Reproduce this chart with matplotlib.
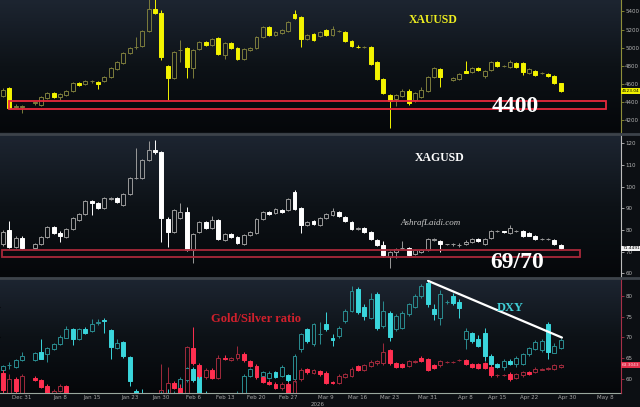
import numpy as np
import pandas as pd
import matplotlib
matplotlib.use("Agg")
import matplotlib.pyplot as plt
from matplotlib.colors import LinearSegmentedColormap
from matplotlib.lines import Line2D
from matplotlib.patches import Rectangle

nan = np.nan

# daily bars, one per weekday from Dec 26 2025 (holidays left empty)
days = pd.bdate_range("2025-12-26", periods=89)

# ---- XAUUSD ----
gold_open = [4470, 4555, 4345, 4345, nan, 4385, 4367, 4445, 4500, 4455,
             4477, 4522, 4610, 4598, 4630, 4620, 4632, 4676, 4765, 4831,
             4941, 5003, 5019, 5185, 5428, 5383, 4798, 4665, 4975, 4997,
             4776, 4986, 5063, 5030, 5107, 4920, 5052, 4997, 4875, 4975,
             4997, 5118, 5229, 5140, 5162, 5185, 5372, 5339, 5096, 5151,
             5129, 5196, 5140, 5185, 5173, 5074, 5012, 5005, 5008, 4842,
             4654, 4477, 4433, 4466, 4522, 4422, 4455, 4522, 4676, 4765,
             nan, 4643, 4654, 4743, 4732, 4776, 4687, 4754, 4842, 4798,
             4787, 4831, 4831, 4720, 4743, 4720, 4710, 4687, 4610]
gold_high = [4550, 4560, 4380, 4365, nan, 4405, 4465, 4510, 4510, 4495,
             4530, 4620, 4625, 4640, 4645, 4630, 4685, 4785, 4850, 4950,
             5005, 5118, 5195, 5560, 5595, 5420, 4810, 4960, 5085, 5010,
             4985, 5075, 5075, 5105, 5115, 5060, 5065, 5005, 4995, 5010,
             5125, 5240, 5240, 5185, 5205, 5295, 5417, 5350, 5150, 5165,
             5185, 5205, 5240, 5200, 5180, 5085, 5025, 5020, 5015, 4850,
             4660, 4490, 4490, 4540, 4545, 4510, 4560, 4685, 4790, 4775,
             nan, 4675, 4720, 4853, 4785, 4790, 4750, 4850, 4855, 4810,
             4865, 4840, 4840, 4775, 4750, 4730, 4720, 4700, 4615]
gold_low = [4455, 4325, 4330, 4280, nan, 4365, 4355, 4430, 4445, 4420,
            4465, 4515, 4580, 4590, 4615, 4545, 4620, 4665, 4755, 4820,
            4930, 4990, 5010, 5170, 5370, 4860, 4420, 4650, 4842, 4665,
            4665, 4975, 5020, 5020, 4920, 4875, 4990, 4860, 4865, 4965,
            4990, 5110, 5130, 5130, 5150, 5175, 5320, 5007, 5085, 5075,
            5120, 5130, 5130, 5170, 5065, 5010, 4995, 4995, 4810, 4640,
            4490, 4113, 4350, 4455, 4370, 4400, 4440, 4510, 4665, 4566,
            nan, 4630, 4640, 4715, 4720, 4745, 4665, 4745, 4790, 4790,
            4775, 4775, 4700, 4710, 4690, 4710, 4680, 4600, 4515]
gold_close = [4530, 4334, 4360, 4350, nan, 4395, 4455, 4500, 4455, 4490,
              4522, 4610, 4588, 4632, 4632, 4598, 4676, 4776, 4842, 4941,
              4997, 5008, 5185, 5428, 5383, 4897, 4665, 4953, 4975, 4787,
              4975, 5063, 5030, 5096, 4930, 5052, 4997, 4875, 4986, 4997,
              5118, 5229, 5140, 5173, 5196, 5284, 5328, 5096, 5140, 5085,
              5173, 5140, 5207, 5185, 5074, 5019, 5008, 5008, 4820, 4654,
              4500, 4411, 4477, 4522, 4389, 4500, 4533, 4676, 4776, 4676,
              nan, 4665, 4710, 4720, 4776, 4754, 4743, 4842, 4798, 4798,
              4842, 4787, 4732, 4765, 4698, 4720, 4687, 4610, 4523.04]

# ---- XAGUSD ----
silver_open = [73.4, 80.0, 72.3, 76.5, nan, 71.9, 73.4, 76.9, 81.5, 78.8,
               76.9, 80.5, 84.6, 87.2, 93.4, 92.6, 90.0, 94.5, 94.9, 91.5,
               96.5, 104.0, 103.8, 112.3, 116.9, 115.8, 85.0, 79.2, 85.4, 88.4,
               70.8, 78.9, 83.8, 80.8, 84.6, 75.4, 78.2, 76.9, 73.4, 77.7,
               78.5, 84.9, 88.4, 87.7, 89.2, 89.2, 97.6, 90.0, 82.3, 84.1,
               82.3, 85.4, 86.9, 88.4, 86.1, 83.8, 80.5, 81.1, 79.2, 75.4,
               73.1, 67.7, 70.0, 71.6, 71.6, 68.8, 70.0, 70.8, 75.4, 74.9,
               73.4, 73.3, 73.0, 73.4, 74.3, 75.9, 73.4, 76.2, 79.4, 79.3,
               78.5, 79.4, 79.5, 78.5, 77.4, 75.8, 75.8, 75.4, 73.1]
silver_high = [79.8, 84.0, 77.0, 77.0, nan, 73.8, 77.3, 81.9, 82.0, 79.5,
               80.8, 85.8, 87.8, 93.8, 93.9, 93.0, 95.0, 95.4, 95.3, 96.9,
               104.2, 117.9, 112.8, 121.0, 121.5, 116.5, 86.0, 89.6, 92.4, 90.7,
               78.6, 84.2, 84.3, 86.6, 85.0, 78.5, 78.6, 77.3, 78.1, 79.6,
               85.3, 88.8, 88.8, 90.1, 89.6, 94.7, 98.4, 90.4, 84.2, 84.5,
               85.8, 87.8, 90.0, 88.8, 86.5, 84.2, 81.2, 81.5, 79.6, 75.8,
               74.9, 70.1, 71.5, 74.9, 72.0, 71.2, 71.2, 76.3, 76.3, 75.3,
               73.7, 74.2, 73.9, 75.5, 76.3, 76.3, 76.3, 79.9, 79.9, 79.6,
               82.5, 79.9, 79.9, 78.9, 77.8, 76.3, 76.3, 75.8, 73.5]
silver_low = [72.8, 71.8, 71.5, 71.2, nan, 71.5, 73.0, 76.5, 78.2, 74.3,
              76.5, 80.0, 84.0, 86.8, 86.9, 89.8, 89.6, 94.0, 92.6, 91.0,
              96.0, 103.5, 103.4, 111.8, 115.0, 74.6, 72.0, 78.8, 84.9, 70.3,
              64.8, 78.5, 80.6, 80.4, 75.4, 75.0, 76.5, 73.5, 73.0, 77.3,
              78.1, 84.5, 87.0, 87.3, 88.0, 88.8, 89.3, 78.5, 81.9, 82.2,
              81.9, 85.0, 86.5, 86.2, 83.7, 80.1, 80.1, 78.8, 75.5, 72.7,
              67.4, 62.5, 67.0, 71.2, 68.1, 68.4, 69.6, 70.4, 75.0, 70.0,
              73.2, 72.6, 72.3, 73.0, 73.9, 74.5, 73.0, 75.8, 79.1, 78.8,
              78.1, 79.1, 76.8, 77.0, 75.5, 75.5, 75.5, 73.1, 71.3]
silver_close = [79.2, 72.3, 76.5, 71.9, nan, 73.4, 76.9, 81.5, 78.5, 77.4,
                80.3, 85.4, 87.4, 93.4, 92.3, 90.3, 94.6, 94.9, 93.0, 96.5,
                103.8, 104.1, 112.3, 116.9, 115.8, 85.4, 79.2, 89.2, 88.4, 70.8,
                78.2, 83.8, 81.0, 84.6, 75.9, 78.0, 76.9, 73.9, 77.7, 79.2,
                84.9, 88.4, 87.4, 89.7, 88.4, 94.3, 89.7, 82.3, 83.8, 82.6,
                85.4, 87.4, 88.8, 86.6, 84.1, 80.5, 80.8, 79.2, 75.9, 73.1,
                68.5, 69.7, 71.1, 71.6, 68.5, 70.8, 70.8, 75.9, 75.9, 73.4,
                73.5, 73.4, 73.1, 74.6, 75.9, 74.9, 75.9, 79.5, 79.5, 79.2,
                81.1, 79.5, 77.2, 77.4, 75.9, 75.9, 75.9, 73.5, 71.4491]

# ---- Gold/Silver ratio (right scale of bottom panel) ----
ratio_open = [61.3, 56.6, 60.0, 56.6, nan, 60.2, 59.7, 58.2, 56.6, 57.0,
              58.2, 56.3, 54.0, 52.5, 49.6, 50.2, 50.9, 49.4, 50.3, 52.1,
              51.2, 48.1, 48.1, 46.2, 46.4, 46.5, 56.4, 59.0, 57.8, 56.5,
              67.5, 63.3, 60.4, 62.1, 60.2, 65.0, 64.6, 65.0, 66.0, 64.2,
              63.1, 60.3, 59.2, 58.8, 57.7, 58.8, 56.0, 59.8, 62.25, 61.45,
              61.85, 61.45, 59.2, 59.0, 60.5, 60.65, 63.05, 62.1, 63.05, 63.7,
              63.7, 66.9, 63.7, 63.5, 63.05, 64.1, 65.1, 64.7, 63.2, 63.2,
              63.95, 63.95, 64.4, 64.5, 63.5, 63.5, 63.7, 62.9, 60.75, 60.9,
              61.2, 60.25, 60.8, 61.6, 61.6, 62.2, 62.35, 62.4, 62.9]
ratio_high = [62.0, 61.0, 60.5, 61.0, nan, 60.6, 60.0, 58.6, 57.4, 58.6,
              58.5, 56.6, 54.8, 52.8, 50.5, 51.2, 51.2, 50.6, 52.4, 52.4,
              51.5, 49.0, 48.5, 46.8, 48.0, 63.5, 62.7, 59.3, 58.7, 68.0,
              72.6, 63.8, 62.6, 62.5, 65.6, 65.8, 65.3, 67.9, 66.4, 64.6,
              63.5, 60.7, 59.6, 59.2, 59.2, 59.2, 59.8, 62.5, 62.6, 62.4,
              62.2, 61.8, 59.5, 61.0, 61.4, 62.8, 63.4, 63.5, 64.4, 64.6,
              68.7, 67.2, 64.0, 63.8, 64.6, 64.6, 65.5, 65.0, 63.5, 64.6,
              64.3, 64.3, 64.8, 64.8, 63.8, 63.8, 64.0, 63.2, 61.1, 61.2,
              61.5, 61.4, 61.9, 61.9, 62.7, 62.6, 62.7, 63.5, 63.6]
ratio_low = [56.5, 56.3, 56.5, 56.3, nan, 59.3, 57.6, 55.0, 56.3, 56.8,
             56.0, 53.8, 52.3, 49.4, 49.2, 49.8, 49.2, 49.0, 50.0, 51.0,
             47.8, 47.6, 45.9, 45.5, 45.8, 46.0, 55.8, 57.4, 55.8, 56.0,
             63.3, 60.2, 60.0, 59.8, 59.8, 64.4, 64.2, 64.6, 64.0, 62.7,
             60.0, 58.9, 58.5, 57.4, 57.3, 55.8, 55.5, 59.4, 61.2, 61.1,
             60.7, 58.7, 58.6, 58.7, 60.2, 60.3, 61.8, 61.8, 62.7, 63.4,
             63.4, 63.3, 62.6, 62.6, 62.7, 63.8, 63.9, 61.8, 62.3, 62.9,
             63.7, 63.7, 64.2, 63.2, 62.6, 62.3, 62.3, 60.5, 60.5, 60.6,
             59.5, 60.0, 60.5, 60.8, 61.3, 62.0, 62.1, 62.1, 62.6]
ratio_close = [57.2, 60.0, 57.0, 60.6, nan, 59.7, 58.0, 55.2, 57.0, 58.2,
               56.3, 54.0, 52.5, 49.6, 50.2, 50.9, 49.4, 50.3, 52.1, 51.2,
               48.1, 48.1, 46.2, 46.4, 46.5, 57.3, 58.9, 57.8, 56.3, 67.6,
               63.7, 60.6, 62.1, 60.2, 65.0, 64.8, 65.0, 66.0, 64.5, 63.1,
               60.3, 59.2, 58.8, 57.7, 58.8, 56.0, 59.4, 62.1, 61.6, 62.1,
               61.05, 59.0, 58.9, 60.65, 61.05, 62.4, 62.1, 63.2, 64.0, 64.25,
               66.45, 63.7, 62.9, 62.9, 64.25, 64.3, 64.25, 62.1, 62.65, 64.25,
               64.05, 64.05, 64.5, 63.5, 62.9, 62.65, 62.65, 60.8, 60.85, 60.95,
               59.8, 61.05, 61.6, 61.05, 62.4, 62.3, 62.45, 63.2, 63.3]

# ---- DXY (hidden left scale of bottom panel) ----
dxy_open = [97.90, 98.05, 98.01, 98.23, nan, 98.23, 98.50, 98.42, 98.61, 98.76,
            98.98, 99.26, 98.94, 99.28, 99.20, 99.48, 99.57, 99.22, 98.64, 98.84,
            98.34, 97.20, 97.00, 96.90, 96.85, 96.95, 97.10, 97.05, 97.10, 97.55,
            97.92, 97.70, 97.10, 97.00, 96.95, 97.00, 96.95, 97.05, 97.14, 97.70,
            97.81, 97.70, 97.64, 97.83, 97.70, 97.72, 97.59, 98.59, 99.26, 98.76,
            99.09, 99.42, 98.95, 99.03, 99.53, 99.87, 100.61, 100.01, 99.64, 100.42,
            99.37, 99.81, 99.26, 99.31, 99.76, 100.01, 100.37, 100.79, 99.92, 99.64,
            100.17, 100.37, 100.17, 98.92, 99.12, 98.94, 99.12, 98.37, 98.09, 98.01,
            98.20, 98.09, 98.09, 98.42, 98.61, 98.57, 99.42, 98.48, 98.64]
dxy_high = [98.08, 98.17, 98.27, 98.50, nan, 98.50, 98.92, 98.68, 98.80, 99.05,
            99.35, 99.30, 99.30, 99.33, 99.61, 99.61, 99.62, 99.26, 98.94, 98.88,
            98.38, 97.26, 97.26, 97.05, 97.00, 97.20, 97.25, 97.20, 97.65, 98.00,
            98.00, 97.75, 97.20, 97.12, 97.10, 97.10, 97.10, 97.20, 97.75, 97.96,
            97.90, 97.88, 97.86, 97.88, 98.06, 97.78, 98.42, 99.14, 99.30, 99.47,
            99.50, 99.84, 99.10, 99.36, 99.92, 100.70, 100.66, 100.10, 100.45, 100.50,
            100.20, 99.85, 99.75, 99.86, 100.14, 100.42, 100.75, 100.87, 100.10, 100.55,
            100.22, 100.45, 100.25, 99.30, 99.18, 99.05, 99.31, 98.42, 98.12, 98.25,
            98.25, 98.35, 98.45, 98.68, 98.90, 98.92, 99.50, 98.80, 98.95]
dxy_low = [97.85, 97.94, 97.97, 98.20, nan, 98.20, 98.25, 98.17, 98.57, 98.72,
           98.95, 98.72, 98.90, 99.10, 99.16, 99.40, 99.14, 98.26, 98.60, 98.30,
           97.37, 96.90, 96.80, 96.75, 96.70, 96.85, 96.95, 96.90, 97.00, 97.50,
           97.50, 97.00, 96.90, 96.85, 96.80, 96.85, 96.85, 96.95, 97.05, 97.65,
           97.70, 97.65, 97.60, 97.62, 97.66, 97.50, 97.50, 98.50, 98.80, 98.70,
           98.75, 99.20, 98.70, 98.98, 99.48, 99.82, 99.78, 99.55, 99.60, 99.22,
           99.30, 98.85, 99.20, 99.25, 99.70, 99.95, 100.30, 100.00, 99.55, 99.40,
           100.10, 100.05, 99.64, 98.60, 98.80, 98.65, 98.20, 98.00, 97.95, 97.90,
           98.05, 98.00, 98.05, 98.35, 98.55, 98.50, 98.26, 98.45, 98.60]
dxy_close = [98.03, 98.06, 98.23, 98.37, nan, 98.46, 98.28, 98.64, 98.76, 99.01,
             99.26, 98.92, 99.26, 99.14, 99.42, 99.50, 99.53, 98.68, 98.81, 98.37,
             97.53, 97.00, 96.90, 96.85, 96.95, 97.10, 97.05, 97.10, 97.59, 97.95,
             97.57, 97.12, 97.00, 96.95, 97.00, 96.95, 97.05, 97.10, 97.70, 97.92,
             97.76, 97.83, 97.81, 97.68, 98.01, 97.57, 98.37, 99.09, 98.87, 99.42,
             99.09, 99.26, 98.90, 99.31, 99.87, 100.53, 99.83, 99.70, 100.26, 99.31,
             99.87, 99.00, 99.70, 99.81, 100.09, 100.37, 100.70, 100.09, 99.76, 100.42,
             100.17, 100.14, 99.98, 99.20, 98.87, 98.70, 98.37, 98.09, 98.01, 98.20,
             98.09, 98.31, 98.42, 98.64, 98.83, 98.87, 98.50, 98.70, 98.89]

tick_dates = ["2025-12-31", "2026-01-08", "2026-01-15", "2026-01-23", "2026-01-30",
              "2026-02-06", "2026-02-13", "2026-02-20", "2026-02-27", "2026-03-09",
              "2026-03-16", "2026-03-23", "2026-03-31", "2026-04-08", "2026-04-15",
              "2026-04-22", "2026-04-30", "2026-05-08"]
tick_labels = ["Dec 31", "Jan 8", "Jan 15", "Jan 23", "Jan 30", "Feb 6", "Feb 13",
               "Feb 20", "Feb 27", "Mar 9", "Mar 16", "Mar 23", "Mar 31", "Apr 8",
               "Apr 15", "Apr 22", "Apr 30", "May 8"]

W, H = 640, 407
axis_days = pd.bdate_range(days[0], "2026-05-08")
tick_pos = axis_days.get_indexer(pd.to_datetime(tick_dates))
step = 6.337  # pixels per bar
x_lo, x_hi = -3 / step, (621 - 3) / step

bg = LinearSegmentedColormap.from_list("bg", ["#05070a", "#0d1217", "#1d2531"])


def px(x, y):
    return x / W, 1 - y / H


def candles(ax, o, h, l, c, hollow_col, fill_col, width=0.62):
    o, h, l, c = (np.array(a, dtype=float) for a in (o, h, l, c))
    x = np.arange(len(o))
    ok = ~np.isnan(o)
    top, bot = np.maximum(o, c), np.minimum(o, c)
    for m, face, edge in ((ok & (c >= o), "none", hollow_col),
                          (ok & (c < o), fill_col, fill_col)):
        ax.vlines(x[m], top[m], h[m], color=edge, lw=0.7, zorder=2)
        ax.vlines(x[m], l[m], bot[m], color=edge, lw=0.7, zorder=2)
        ax.bar(x[m], (top - bot)[m], width, bottom=bot[m], facecolor=face,
               edgecolor=edge, lw=0.7, zorder=3)


def shade(ax):
    ax.imshow(np.linspace(0, 1, 256).reshape(-1, 1), extent=[0, 1, 0, 1],
              transform=ax.transAxes, aspect="auto", cmap=bg, origin="lower", zorder=0)


def style(ax, spine_col):
    for s in ("left", "top", "bottom"):
        ax.spines[s].set_visible(False)
    ax.spines["right"].set_color(spine_col)
    ax.spines["right"].set_linewidth(0.8)
    ax.yaxis.tick_right()
    ax.tick_params(axis="y", direction="out", length=2, width=0.6, color=spine_col,
                   labelcolor="#b4b4b4", labelsize=4, pad=1)
    ax.tick_params(axis="x", bottom=False, labelbottom=False)


def last_label(ax, value, text, fc, tc):
    ax.annotate(text, xy=(1, value), xycoords=("axes fraction", "data"),
                xytext=(0.8, 0), textcoords="offset points", ha="left", va="center",
                fontsize=3.1, color=tc, annotation_clip=False, zorder=6,
                bbox=dict(boxstyle="square,pad=0.2", fc=fc, ec="none"))


fig = plt.figure(figsize=(W / 100, H / 100), dpi=100, facecolor="#0c0f13")
ax1 = fig.add_axes([0, 1 - 132 / H, 621 / W, 132 / H])
ax2 = fig.add_axes([0, 1 - 277 / H, 621 / W, 142 / H])
ax3 = fig.add_axes([0, 1 - 393 / H, 621 / W, 114 / H])

# gold
shade(ax1)
candles(ax1, gold_open, gold_high, gold_low, gold_close, "#7c7c3c", "#f4f400")
ax1.set_xlim(x_lo, x_hi)
ax1.set_ylim(4068, 5527)
ax1.set_yticks(range(4200, 5401, 200))
style(ax1, "#8f8f3a")
ax1.add_patch(Rectangle((0.95, 4323), 94.2, 88, fill=False, ec="#e8283c", lw=1.3,
                        clip_on=False, zorder=4))
last_label(ax1, gold_close[-1], "4523.04", "#f0f000", "black")

# silver
shade(ax2)
candles(ax2, silver_open, silver_high, silver_low, silver_close, "#9a9a9a", "#ffffff")
ax2.set_xlim(x_lo, x_hi)
ax2.set_ylim(58.3, 123.8)
ax2.set_yticks(range(60, 121, 10))
style(ax2, "#bdbdbd")
ax2.add_patch(Rectangle((-0.15, 67.6), 91.2, 3.3, fill=False, ec="#a8283a", lw=1.3,
                        clip_on=False, zorder=4))
last_label(ax2, silver_close[-1], "71.4491", "#f2f2f2", "black")

# DXY and gold/silver ratio
shade(ax3)
candles(ax3, dxy_open, dxy_high, dxy_low, dxy_close, "#2a8c90", "#3ad6dc")
ax3.set_xlim(x_lo, x_hi)
ax3.set_ylim(97.133, 100.93)
ax3.plot([67.07, 88.2], [100.87, 98.98], color="white", lw=1.6, zorder=5,
         solid_capstyle="round")
for s in ("left", "top", "right"):
    ax3.spines[s].set_visible(False)
ax3.spines["bottom"].set_color("#9aa89e")
ax3.spines["bottom"].set_linewidth(0.8)
ax3.tick_params(axis="y", left=False, labelleft=False)
ax3.set_xticks(tick_pos)
ax3.set_xticklabels(tick_labels)
ax3.tick_params(axis="x", length=0, labelsize=4, labelcolor="#a8a8a8", pad=1.5)

ax3r = ax3.twinx()
candles(ax3r, ratio_open, ratio_high, ratio_low, ratio_close, "#a02a3c", "#ff2f50")
ax3r.set_xlim(x_lo, x_hi)
ax3r.set_ylim(56.51, 84.12)
ax3r.set_yticks(range(60, 81, 5))
style(ax3r, "#a83048")
ax3r.tick_params(axis="x", bottom=False, labelbottom=False)
last_label(ax3r, 63.3, "63.3043", "#e0304c", "#ffd8de")

# panel separators
for y in (133.5, 278):
    fig.add_artist(Line2D([0, 1], [1 - y / H] * 2, transform=fig.transFigure,
                          color="#3d434a", lw=2))

# annotations
serif = "Liberation Serif"
fig.text(*px(433, 20), "XAUUSD", color="#f0f020", fontsize=8.5, fontweight="bold",
         family=serif, ha="center", va="center")
fig.text(*px(515, 106), "4400", color="white", fontsize=17, fontweight="bold",
         family=serif, ha="center", va="center")
fig.text(*px(440, 158), "XAGUSD", color="white", fontsize=8.5, fontweight="bold",
         family=serif, ha="center", va="center")
fig.text(*px(431, 223), "AshrafLaidi.com", color="#c8c8c8", fontsize=6.5,
         style="italic", family=serif, ha="center", va="center")
fig.text(*px(517, 262), "69/70", color="white", fontsize=17, fontweight="bold",
         family=serif, ha="center", va="center")
fig.text(*px(256, 319), "Gold/Silver ratio", color="#d0202c", fontsize=9,
         fontweight="bold", family=serif, ha="center", va="center")
fig.text(*px(510, 308), "DXY", color="#40d0d8", fontsize=9, fontweight="bold",
         family=serif, ha="center", va="center")
fig.text(*px(318, 405), "2026", color="#a8a8a8", fontsize=4, ha="center", va="center")

fig.savefig("out.png", dpi=100, facecolor=fig.get_facecolor())
